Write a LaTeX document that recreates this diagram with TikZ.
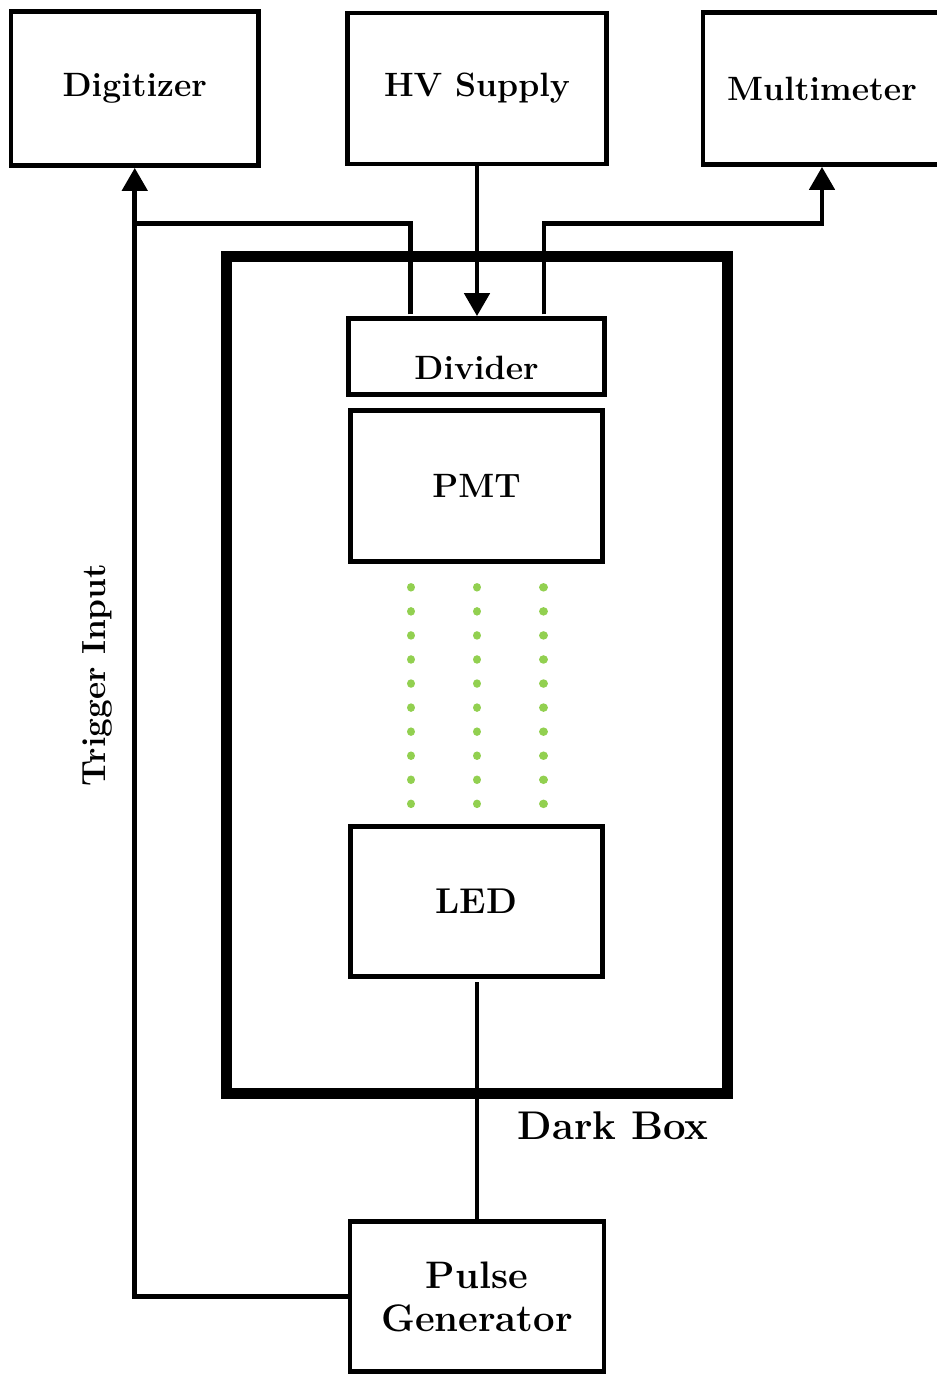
\documentclass[tikz,border=0pt]{standalone}
\usetikzlibrary{arrows.meta}
\definecolor{lightgreen}{RGB}{146,208,80}

\begin{document}
\begin{tikzpicture}[
    device/.style={rectangle, draw=black, fill=white, line width=0.095cm,
        align=center, font=\fontsize{19.2}{24.4}\selectfont\bfseries,
        inner sep=2pt},
    enclosure/.style={rectangle, draw=black, line width=0.22cm},
    wire/.style={line width=0.095cm, draw=black},
    signal/.style={wire, -{Triangle[width=0.5cm, length=0.46cm]}},
    photons/.style={draw=lightgreen, line width=0.17cm, line cap=round,
        dash pattern=on 0.01pt off 0.4808cm},
    tag/.style={font=\fontsize{22.8}{26}\selectfont\bfseries},
]
\useasboundingbox (0,0) rectangle (18.74,-27.48);
  % dark box
  \node[enclosure, minimum width=10.03cm, minimum height=16.75cm] (darkbox) at (9.535,-13.495) {};
  \node[tag] (darklabel) at (12.26,-22.51) {Dark Box};
  % instruments
  \node[device, minimum width=4.95cm, minimum height=3.08cm] (digitizer) at (2.695,-1.77) {Digitizer};
  \node[device, minimum width=5.18cm, minimum height=3.02cm] (hvsupply) at (9.54,-1.77) {HV Supply};
  \node[device, minimum width=4.76cm, minimum height=3.04cm] (multimeter) at (16.44,-1.77) {Multimeter};
  % inside the dark box
  \node[device, minimum width=5.12cm, minimum height=1.52cm, text height=0.9cm, text depth=0pt] (divider) at (9.53,-7.13) {Divider};
  \node[device, minimum width=5.04cm, minimum height=3.02cm] (pmt) at (9.53,-9.72) {PMT};
  \node[device, minimum width=5.04cm, minimum height=3.0cm, font=\fontsize{20.4}{24}\selectfont\bfseries] (led) at (9.53,-18.03) {LED};
  \node[device, minimum width=5.08cm, minimum height=3.0cm, font=\fontsize{21.8}{24.4}\selectfont\bfseries] (pulser) at (9.54,-25.93) {Pulse\\Generator};
  % light from the LED
  \draw[photons] (8.22,-11.746) -- (8.22,-16.10);
  \draw[photons] (9.54,-11.746) -- (9.54,-16.10);
  \draw[photons] (10.87,-11.746) -- (10.87,-16.10);
  % cabling
  \coordinate (trigsplit) at (2.695,-4.466);
  \coordinate (meterbend) at (16.44,-4.466);
  \draw[signal] (hvsupply.south) -- (hvsupply.south |- divider.north);
  \draw[signal] (pulser.west) -| (digitizer.south);
  \draw[wire, shorten <=1pt] ([xshift=-1.32cm]divider.north) |- (trigsplit);
  \draw[signal, shorten <=1pt] ([xshift=1.35cm]divider.north) |- (meterbend) -- (multimeter.south);
  \draw[wire, shorten <=2pt] (pulser.north |- led.south) -- (pulser.north);
  \node[tag, font=\fontsize{19}{22}\selectfont\bfseries, rotate=90] (triglabel) at (1.94,-13.50) {Trigger Input};
\end{tikzpicture}
\end{document}
